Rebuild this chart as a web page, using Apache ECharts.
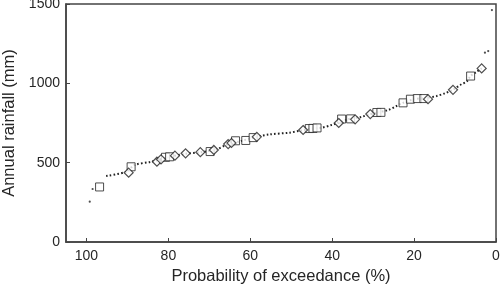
<!DOCTYPE html>
<html>
<head>
<meta charset="utf-8">
<script src="https://cdn.jsdelivr.net/npm/echarts@6/dist/echarts.min.js"></script>
<style>
  html, body { margin: 0; padding: 0; background: #fff; }
  #container { width: 500px; height: 291px; }
</style>
</head>
<body>
<div id="container"></div>
<script>
// observed years plotted as squares
var squareP = [96.8, 89.1, 80.7, 79.7, 69.8, 63.6, 61.1, 59.3, 45.6, 44.7, 43.7, 37.7, 35.5, 29.1, 28.1, 22.7, 20.9, 19.2, 17.6, 6.2];
var squareMm = [347, 474, 534, 537, 570, 638, 640, 658, 715, 716, 719, 775, 776, 816, 817, 877, 900, 904, 904, 1046];

// observed years plotted as diamonds
var diamondP = [89.7, 82.8, 81.8, 78.4, 75.8, 72.2, 68.9, 65.4, 64.6, 58.4, 47.1, 38.4, 34.4, 30.7, 16.6, 10.5, 3.5];
var diamondMm = [437, 506, 521, 544, 559, 566, 580, 617, 624, 663, 706, 750, 773, 806, 900, 959, 1094];

// fitted curve (dotted)
var curveP = [95.2, 90.3, 88.3, 84.2, 80, 75.8, 72, 68.3, 65.9, 62, 59, 55.3, 50.4, 47.9, 45, 42.6, 40.2, 38.4, 36, 32.8, 30.7, 26.3, 24.3, 22.7, 20, 17, 14.5, 12.5, 10.5, 8.4, 7.2, 6.2, 4.7, 3.5];
var curveMm = [416, 443, 485, 506, 535, 556, 566, 584, 611, 638, 660, 678, 689, 701, 714, 720, 737, 752, 775, 789, 806, 832, 857, 877, 900, 908, 920, 937, 960, 995, 1010, 1046, 1073, 1094];

// lone dots of the fitted curve at both tails
var tailP = [99.2, 98.5, 2.7, 1.9, 1.0];
var tailMm = [254, 334, 1193, 1203, 1462];

var xTicks = [0, 20, 40, 60, 80, 100];
var yTicks = [0, 500, 1000, 1500];

function pairs(xs, ys) {
    return xs.map(function (x, i) { return [x, ys[i]]; });
}

var myChart = echarts.init(document.getElementById('container'));
var textColor = '#262626';
var font = 'Liberation Sans';

var option = {
    animation: false,
    grid: {
        left: 66, right: 4, top: 4, bottom: 49,
        outerBoundsMode: 'none',
        show: true,
        borderColor: '#444',
        borderWidth: 1.5
    },
    xAxis: {
        type: 'value',
        inverse: true,
        min: 0, max: 105, interval: 20,
        name: 'Probability of exceedance (%)',
        nameLocation: 'middle',
        nameGap: 20,
        nameTextStyle: { color: textColor, fontFamily: font, fontSize: 16.5 },
        axisLine: { show: true, onZero: false, lineStyle: { color: '#444', width: 1.5 } },
        axisTick: { show: true, inside: true, length: 4, lineStyle: { color: '#444' },
            customValues: xTicks },
        axisLabel: { color: textColor, fontFamily: font, fontSize: 14, margin: 7,
            customValues: xTicks,
            formatter: function (v) { return String(v); } },
        splitLine: { show: false }
    },
    yAxis: {
        type: 'value',
        min: 0, max: 1500, interval: 500,
        name: 'Annual rainfall (mm)',
        nameLocation: 'middle',
        nameGap: 42,
        nameTextStyle: { color: textColor, fontFamily: font, fontSize: 16.5 },
        axisLine: { show: true, onZero: false, lineStyle: { color: '#444', width: 1.5 } },
        axisTick: { show: true, inside: true, length: 4, lineStyle: { color: '#444' },
            customValues: yTicks },
        axisLabel: { color: textColor, fontFamily: font, fontSize: 14, margin: 6,
            customValues: yTicks,
            formatter: function (v) { return String(v); } },
        splitLine: { show: false }
    },
    series: [{
        name: 'fit',
        type: 'line',
        data: pairs(curveP, curveMm),
        smooth: 0.3,
        showSymbol: false,
        z: 1,
        lineStyle: { color: '#222', width: 2, type: [1.6, 2.2] }
    }, {
        name: 'tail',
        type: 'scatter',
        data: pairs(tailP, tailMm),
        symbol: 'circle',
        symbolSize: 2.2,
        z: 1,
        itemStyle: { color: '#222' }
    }, {
        name: 'squares',
        type: 'scatter',
        data: pairs(squareP, squareMm),
        symbol: 'rect',
        symbolSize: 8,
        z: 3,
        itemStyle: { color: '#fff', borderColor: '#222', borderWidth: 1 }
    }, {
        name: 'diamonds',
        type: 'scatter',
        data: pairs(diamondP, diamondMm),
        symbol: 'diamond',
        symbolSize: 9,
        z: 4,
        itemStyle: { color: '#fff', borderColor: '#222', borderWidth: 1.2 }
    }]
};
myChart.setOption(option);
</script>
</body>
</html>
